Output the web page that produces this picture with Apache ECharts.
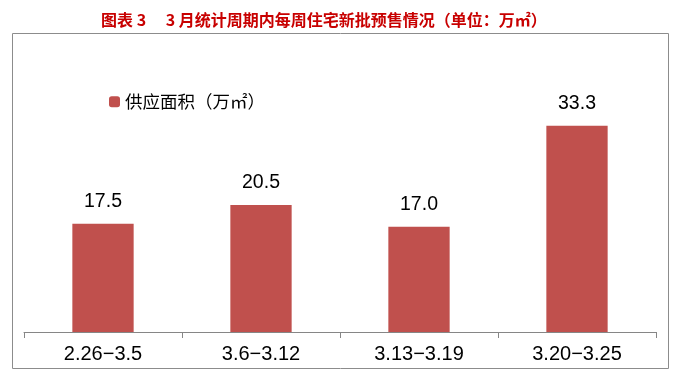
<!DOCTYPE html>
<html><head><meta charset="utf-8">
<script src="https://cdn.jsdelivr.net/npm/echarts@6/dist/echarts.min.js"></script>
<style>html,body{margin:0;padding:0;background:#fff}#c{width:673px;height:383px}</style>
</head><body><div id="c"></div>
<script>
const categories = ['2.26−3.5','3.6−3.12','3.13−3.19','3.20−3.25'];
const supplyArea = [17.5, 20.5, 17.0, 33.3];
const seriesName = '供应面积（万㎡）';
const titleText = '图表 3　 3 月统计周期内每周住宅新批预售情况（单位：万㎡）';

const chart = echarts.init(document.getElementById('c'));
chart.setOption({
  animation: false,
  title: {
    text: titleText, left: 96, top: 7,
    textStyle: {color: '#C80000', fontSize: 16, fontWeight: 'bold', fontFamily: 'Noto Sans CJK SC'}
  },
  graphic: [{
    type: 'rect', shape: {x: 12.5, y: 33.5, width: 656, height: 335},
    style: {fill: 'none', stroke: '#8c8c8c', lineWidth: 1}
  }],
  legend: {
    data: [seriesName], left: 104, top: 88, itemWidth: 11, itemHeight: 11, itemGap: 5,
    textStyle: {fontSize: 17.5, color: '#000', fontFamily: 'Noto Sans CJK SC'}
  },
  grid: {left: 24, right: 17, top: 84.4, bottom: 51},
  xAxis: {
    type: 'category', data: categories,
    axisLine: {lineStyle: {color: '#868686'}},
    axisTick: {show: true, length: 6, lineStyle: {color: '#868686'}},
    axisLabel: {fontSize: 20, color: '#000', margin: 12, fontFamily: 'Liberation Sans'}
  },
  yAxis: {
    type: 'value', min: 0, max: 40, show: false,
    splitLine: {show: false}
  },
  series: [{
    name: seriesName, type: 'bar', data: supplyArea, barWidth: '38.8%',
    itemStyle: {color: '#C0504D'},
    label: {show: true, position: 'top', distance: 12, fontSize: 19.5, color: '#000',
      fontFamily: 'Liberation Sans', formatter: p => p.value.toFixed(1)}
  }]
});
</script></body></html>
